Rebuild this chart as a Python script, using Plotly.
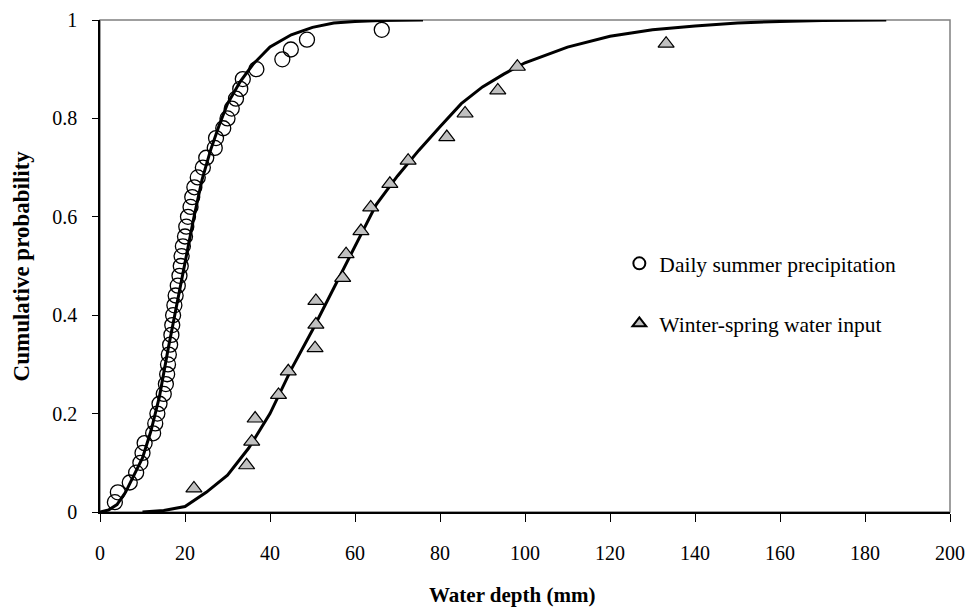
import plotly.graph_objects as go

# Daily summer precipitation (circles), plotting positions i/50
summer_x = [3.5, 4.2, 7.0, 8.5, 9.5, 10.0, 10.5, 12.5, 13.0, 13.5,
            14.0, 15.0, 15.5, 15.8, 16.0, 16.2, 16.5, 16.8, 17.0, 17.2,
            17.5, 17.8, 18.3, 18.7, 19.0, 19.2, 19.5, 20.0, 20.3, 20.7,
            21.3, 21.7, 22.2, 23.0, 24.2, 25.0, 27.0, 27.3, 29.0, 30.0,
            31.0, 32.0, 33.0, 33.6, 36.8, 42.9, 44.9, 48.7, 66.3]
summer_y = [0.02, 0.04, 0.06, 0.08, 0.10, 0.12, 0.14, 0.16, 0.18, 0.20,
            0.22, 0.24, 0.26, 0.28, 0.30, 0.32, 0.34, 0.36, 0.38, 0.40,
            0.42, 0.44, 0.46, 0.48, 0.50, 0.52, 0.54, 0.56, 0.58, 0.60,
            0.62, 0.64, 0.66, 0.68, 0.70, 0.72, 0.74, 0.76, 0.78, 0.80,
            0.82, 0.84, 0.86, 0.88, 0.90, 0.92, 0.94, 0.96, 0.98]

# Fitted curve for summer precipitation
summer_fit_x = [0, 2, 4, 6, 8, 10, 12, 14, 16, 18, 20, 22, 24, 26, 28, 30,
                33, 36, 40, 45, 50, 55, 60, 66, 76]
summer_fit_y = [0, 0.004, 0.015, 0.04, 0.075, 0.11, 0.165, 0.235, 0.33, 0.42,
                0.51, 0.595, 0.675, 0.735, 0.785, 0.83, 0.875, 0.91, 0.945,
                0.97, 0.985, 0.994, 0.997, 0.999, 1.0]

# Winter-spring water input (triangles), plotting positions i/21
winter_x = [22.1, 34.5, 35.7, 36.5, 42.0, 44.3, 50.6, 50.8, 50.8, 57.1,
            57.9, 61.4, 63.7, 68.2, 72.5, 81.6, 85.9, 93.6, 98.2, 133.2]
winter_y = [0.048, 0.095, 0.143, 0.190, 0.238, 0.286, 0.333, 0.381, 0.429, 0.476,
            0.524, 0.571, 0.619, 0.667, 0.714, 0.762, 0.810, 0.857, 0.905, 0.952]

# Fitted curve for winter-spring input
winter_fit_x = [10, 15, 20, 25, 30, 35, 40, 45, 50, 55, 60, 65, 70, 75, 80, 85,
                90, 95, 100, 110, 120, 130, 140, 150, 160, 170, 185]
winter_fit_y = [0, 0.003, 0.011, 0.04, 0.075, 0.13, 0.2, 0.29, 0.37, 0.455,
                0.54, 0.625, 0.683, 0.735, 0.783, 0.83, 0.864, 0.89, 0.913,
                0.945, 0.967, 0.98, 0.988, 0.994, 0.997, 0.999, 1.0]

x_ticks = [0, 20, 40, 60, 80, 100, 120, 140, 160, 180, 200]
y_ticks = [0, 0.2, 0.4, 0.6, 0.8, 1]
y_tick_text = ["0", "0.2", "0.4", "0.6", "0.8", "1"]

x_title = "Water depth (mm)"
y_title = "Cumulative probability"

FONT = "Liberation Serif, Times New Roman, serif"

fig = go.Figure()

fig.add_trace(go.Scatter(x=summer_fit_x, y=summer_fit_y, mode="lines",
                         line=dict(color="black", width=3),
                         showlegend=False, hoverinfo="skip"))
fig.add_trace(go.Scatter(x=winter_fit_x, y=winter_fit_y, mode="lines",
                         line=dict(color="black", width=3),
                         showlegend=False, hoverinfo="skip"))
fig.add_trace(go.Scatter(x=summer_x, y=summer_y, mode="markers",
                         name="Daily summer precipitation",
                         legendgroup="a",
                         marker=dict(symbol="circle", size=15, color="rgba(0,0,0,0)",
                                     line=dict(color="black", width=1.3)),
                         cliponaxis=False))
fig.add_trace(go.Scatter(x=winter_x, y=winter_y, mode="markers",
                         name="Winter-spring water input",
                         legendgroup="b",
                         marker=dict(symbol="triangle-up", size=14, color="#c0c0c0",
                                     line=dict(color="black", width=1.2)),
                         cliponaxis=False))

fig.update_layout(
    width=971, height=610,
    margin=dict(l=100, r=21, t=20, b=98),
    paper_bgcolor="white", plot_bgcolor="white",
    font=dict(family=FONT, size=20, color="black"),
    showlegend=True,
    legend=dict(x=0.611, y=0.547, xanchor="left", yanchor="top",
                bgcolor="rgba(0,0,0,0)", borderwidth=0,
                font=dict(family=FONT, size=21.5, color="black"),
                traceorder="grouped", tracegroupgap=29,
                itemsizing="constant", itemwidth=30),
    shapes=[dict(type="rect", xref="paper", yref="paper", x0=0, x1=1, y0=0, y1=1,
                 line=dict(color="#808080", width=1.5), layer="below")],
    annotations=[
        dict(text="<b>" + x_title + "</b>", xref="paper", yref="paper",
             x=0.485, y=-0.168, xanchor="center", yanchor="middle",
             showarrow=False, font=dict(family=FONT, size=21)),
        dict(text="<b>" + y_title + "</b>", xref="paper", yref="paper",
             x=-0.0925, y=0.5, xanchor="center", yanchor="middle", textangle=-90,
             showarrow=False, font=dict(family=FONT, size=23)),
    ],
)

fig.update_xaxes(range=[0, 200], tickvals=x_ticks, ticks="outside", ticklen=8,
                 tickwidth=1, tickcolor="black", showline=True, linecolor="black",
                 linewidth=1.5, showgrid=False, zeroline=False, automargin=False,
                 ticklabelstandoff=14, tickfont=dict(family=FONT, size=20))
fig.update_yaxes(range=[0, 1], tickvals=y_ticks, ticktext=y_tick_text,
                 ticks="outside", ticklen=6, tickwidth=1, tickcolor="black",
                 showline=True, linecolor="black", linewidth=1.5, automargin=False,
                 showgrid=False, zeroline=False, ticklabelstandoff=11,
                 tickfont=dict(family=FONT, size=20))

fig.write_html("out.html")
